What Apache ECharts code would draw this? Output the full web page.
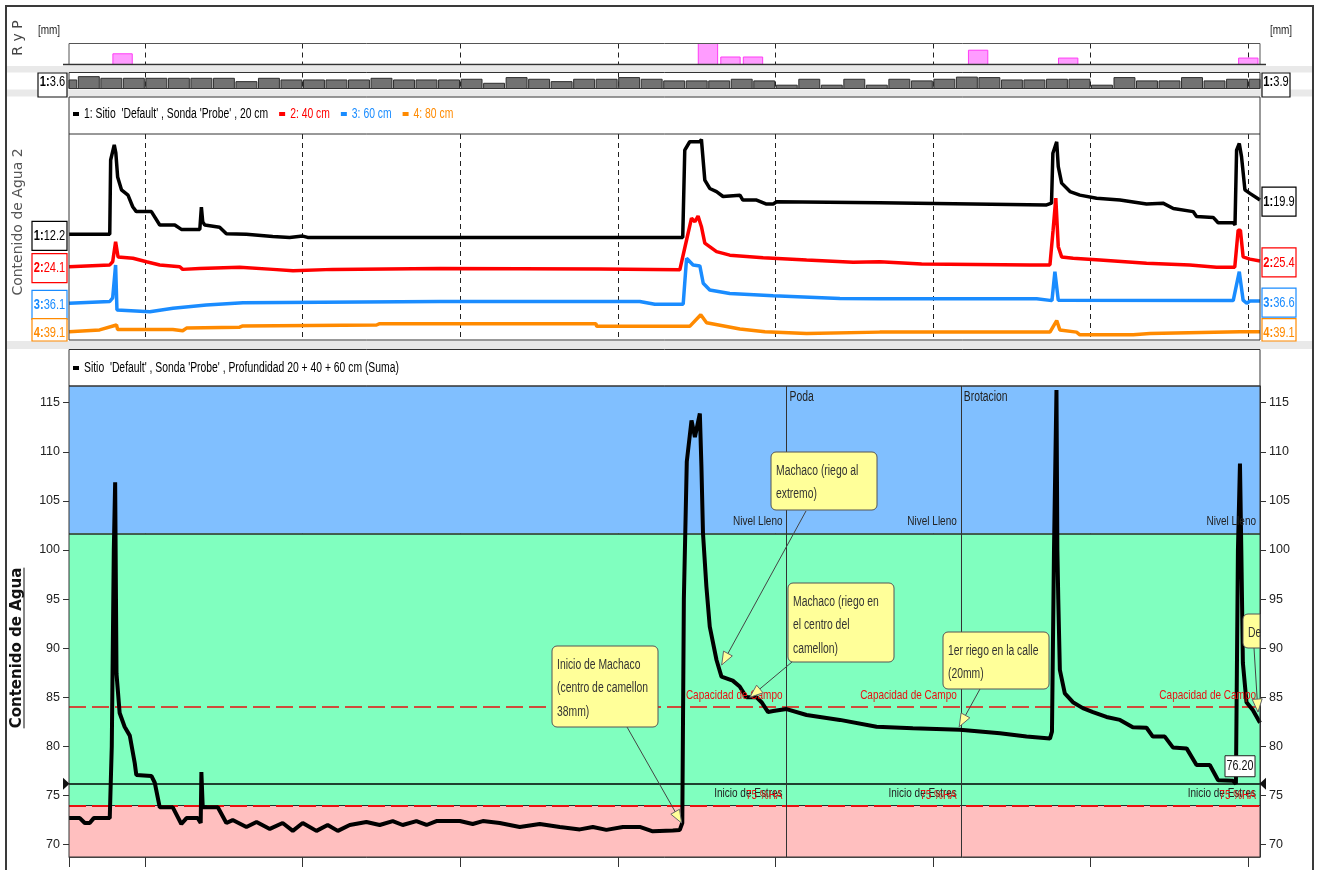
<!DOCTYPE html>
<html>
<head>
<meta charset="utf-8">
<script src="https://cdn.jsdelivr.net/npm/echarts@6/dist/echarts.min.js"></script>
<style>
  html, body { margin: 0; padding: 0; background: #fff; }
  #chart { width: 1318px; height: 870px; }
</style>
</head>
<body>
<div id="chart"></div>
<script>
// ---------------- data (x = days from the start of the window) ----------------
const xEnd = 52.9;
const weekLines = [3.38, 10.38, 17.38, 24.38, 31.38, 38.38, 45.38, 52.38];

// rain / irrigation, daily totals [mm]
const rainDays = [2.38, 28.38, 29.38, 30.38, 40.38, 44.38, 52.38];
const rainMm   = [15, 38, 10.5, 10.5, 20, 9, 9];

// reference evapotranspiration, one value per day [mm]
const etFirstDay = -0.12;
const etMm = [3.6, 5.0, 4.3, 4.3, 4.3, 4.3, 4.3, 4.3, 2.9, 4.3,
              3.6, 3.6, 3.6, 3.6, 4.3, 3.6, 3.6, 3.6, 3.9, 2.2,
              4.6, 3.9, 2.9, 3.9, 3.9, 4.6, 3.9, 3.2, 3.2, 3.2,
              3.9, 3.2, 1.4, 3.9, 1.4, 3.9, 1.4, 3.9, 3.2, 3.9,
              4.8, 4.6, 3.6, 3.6, 3.9, 3.9, 1.4, 4.6, 3.2, 3.2,
              4.6, 3.2, 3.9, 3.9];

// soil water content per sensor depth [day, value]
const depth20 = [[0,12.2],[1.22,12.2],[1.27,12.6],[1.36,12.2],[1.81,12.2],[1.85,28.9],[2.01,32.3],[2.08,30.5],[2.16,25.1],[2.33,22.2],[2.62,21.0],[2.83,18.4],[2.99,17.3],[3.66,17.3],[4.03,14.3],[4.70,14.3],[4.99,13.3],[5.81,13.3],[5.88,18.3],[5.94,15.0],[6.03,14.3],[6.69,13.8],[6.99,12.3],[7.88,12.2],[9.05,11.7],[9.80,11.5],[10.38,11.8],[10.6,11.5],[16.47,11.5],[27.26,11.5],[27.35,31.1],[27.57,33.0],[28.01,33.0],[28.09,33.5],[28.24,24.4],[28.46,22.5],[28.76,21.8],[29.05,20.7],[29.80,21.0],[29.93,19.9],[30.54,19.9],[30.98,19.0],[31.28,19.0],[31.43,19.5],[36.01,19.3],[43.42,18.8],[43.64,19.2],[43.70,30.4],[43.87,33.0],[43.94,27.4],[44.09,23.7],[44.46,21.8],[44.90,21.0],[45.64,20.3],[46.68,19.9],[47.86,19.0],[48.59,19.2],[49.05,18.0],[49.93,17.3],[50.08,16.2],[50.82,16.0],[51.04,14.8],[51.71,14.8],[51.79,14.3],[51.86,31.1],[51.98,32.6],[52.08,29.6],[52.23,22.2],[52.45,21.4],[52.90,19.9]];
const depth40 = [[0,24.1],[1.81,24.5],[1.94,25.2],[2.07,29.7],[2.18,26.3],[2.84,26.0],[3.44,25.2],[4.03,24.5],[4.92,24.1],[5.05,23.5],[5.80,23.7],[7.58,24.0],[9.06,23.5],[9.95,23.2],[11.71,23.5],[16.47,23.7],[23.58,23.6],[27.13,23.4],[27.43,30.1],[27.65,35.0],[27.80,34.2],[27.94,35.5],[28.09,33.1],[28.24,29.4],[28.76,27.5],[29.35,26.7],[30.83,26.1],[32.76,25.6],[34.83,25.1],[36.01,25.2],[37.87,24.7],[42.68,24.5],[43.57,24.5],[43.71,32.3],[43.83,39.5],[43.94,28.6],[44.09,26.3],[44.60,26.0],[45.79,25.6],[47.86,24.9],[49.78,24.5],[50.97,24.0],[51.78,24.0],[51.93,32.3],[52.03,32.3],[52.15,26.3],[52.45,25.8],[52.90,25.4]];
const depth60 = [[0,36.1],[1.81,36.5],[1.94,37.3],[2.07,44.7],[2.13,34.6],[3.59,34.2],[4.62,35.0],[6.10,35.7],[7.73,36.2],[16.47,36.5],[25.35,36.5],[26.02,35.9],[27.28,35.9],[27.43,46.2],[27.72,44.7],[28.02,44.5],[28.17,40.6],[28.46,39.1],[29.35,38.3],[31.28,37.8],[34.24,37.2],[36.01,37.1],[42.98,37.1],[43.05,36.7],[43.66,36.7],[43.79,43.2],[43.94,36.8],[51.71,36.7],[51.98,43.2],[52.15,36.8],[52.31,36.1],[52.45,36.6],[52.90,36.6]];
const depth80 = [[0,39.1],[1.36,39.5],[2.11,40.6],[2.16,39.6],[4.61,39.6],[4.69,39.3],[5.05,39.3],[5.22,39.9],[7.58,40.1],[7.72,40.4],[13.66,40.6],[13.80,40.9],[23.40,40.9],[23.44,40.3],[27.57,40.3],[28.06,42.9],[28.32,41.1],[29.80,39.7],[30.91,39.1],[32.76,38.7],[36.01,39.0],[43.57,39.0],[43.87,41.6],[44.01,39.5],[44.75,39.0],[44.90,38.4],[47.27,38.4],[48.01,38.7],[52.01,39.1],[52.90,39.1]];

// summed profile 20 + 40 + 60 cm [day, value]
const sumProfile = [[0,72.7],[0.48,72.7],[0.7,72.2],[0.92,72.2],[1.1,72.7],[1.81,72.7],[1.90,80.0],[1.99,100.0],[2.05,106.9],[2.11,87.4],[2.25,83.4],[2.47,82.0],[2.70,81.1],[2.92,78.3],[2.99,77.1],[3.66,77.0],[3.81,76.3],[4.03,73.8],[4.61,73.8],[4.99,72.1],[5.22,72.7],[5.72,72.7],[5.85,72.2],[5.88,77.4],[5.92,77.4],[5.94,73.8],[6.61,73.8],[6.99,72.2],[7.27,72.5],[7.88,71.8],[8.33,72.3],[8.92,71.6],[9.49,72.2],[9.94,71.4],[10.38,72.2],[10.99,71.4],[11.49,72.0],[11.94,71.4],[12.47,72.0],[13.21,72.3],[13.80,72.0],[14.38,72.4],[14.82,72.0],[15.43,72.4],[15.88,72.0],[16.32,72.4],[17.36,72.4],[17.93,72.1],[18.38,72.4],[19.13,72.2],[20.02,71.8],[20.91,72.1],[21.80,71.8],[22.69,71.55],[23.27,71.8],[23.87,71.5],[24.60,71.8],[25.35,71.8],[25.93,71.35],[26.82,71.45],[27.13,71.5],[27.24,72.2],[27.31,95.0],[27.44,109.0],[27.65,113.2],[27.80,111.5],[28.02,113.9],[28.09,108.5],[28.16,101.7],[28.31,96.3],[28.46,92.2],[28.76,88.8],[28.98,87.1],[29.48,86.7],[29.79,86.1],[30.09,85.0],[30.54,85.0],[30.76,84.5],[31.05,83.5],[31.28,83.6],[31.87,83.8],[32.76,83.2],[34.24,82.7],[35.87,82.0],[37.48,81.85],[39.57,81.7],[41.35,81.35],[42.53,81.0],[43.57,80.8],[43.66,81.5],[43.75,100.0],[43.86,116.3],[43.90,100.0],[43.94,95.0],[44.01,87.8],[44.23,85.4],[44.59,84.5],[45.03,83.9],[45.48,83.5],[46.08,83.0],[46.68,82.7],[47.25,81.95],[47.86,81.9],[48.14,81.0],[48.67,81.0],[49.03,79.9],[49.64,79.8],[50.08,78.1],[50.67,78.1],[51.04,76.55],[51.70,76.5],[51.83,76.2],[51.92,100.0],[52.01,108.8],[52.07,100.0],[52.14,88.5],[52.30,84.5],[52.58,83.7],[52.90,82.4]];

// management levels of the summed profile
const nivelLleno = 101.7;
const capacidadCampo = 84.0;
const inicioEstres = 74.0;
const cursorValue = 76.2;
const yTicks = [70, 75, 80, 85, 90, 95, 100, 105, 110, 115];
const levelNames = ['Nivel Lleno', 'Capacidad de Campo', 'Inicio de Estres'];
const stressPctLabel = '75 %HA';

// field events
const eventNames = ['Poda', 'Brotacion'];
const eventDays  = [31.87, 39.61];

// notes: text and the [day, value] they point at
const noteTexts = ['Machaco (riego al\nextremo)', 'Machaco (riego en\nel centro del\ncamellon)',
                   'Inicio de Machaco\n(centro de camellon\n38mm)', '1er riego en la calle\n(20mm)', 'De'];
const noteTargets = [[28.99, 88.3], [30.24, 85.0], [27.21, 72.2], [39.54, 82.0], [52.81, 83.5]];

const seriesNames = ["1: Sitio  'Default' , Sonda 'Probe' , 20 cm", '2: 40 cm', '3: 60 cm', '4: 80 cm'];
const sumName = "Sitio  'Default' , Sonda 'Probe' , Profundidad 20 + 40 + 60 cm (Suma)";

// ---------------- styling / layout ----------------
const NFONT = "'Liberation Sans',Arial,sans-serif";   // squeezed horizontally to a narrow face
const NX = 0.74;
const WIDE = "'DejaVu Sans',sans-serif";
const depthColors = ['#000000', '#ff0000', '#1a8cff', '#ff8a00'];
// value windows of the four stacked sensor traces (same scale, offset bands)
const depthRanges = [[-11.55, 34.74], [7.63, 53.92], [27.85, 74.14], [37.23, 83.53]];
const noteBoxes = [
  { x: 771, y: 452, w: 106, h: 58, from: [806, 511] },
  { x: 788, y: 583, w: 106, h: 79, from: [792, 662] },
  { x: 552, y: 646, w: 106, h: 81, from: [627, 727] },
  { x: 943, y: 632, w: 106, h: 57, from: [980, 689] },
  { x: 1243, y: 614, w: 17, h: 34, from: [1254, 648], open: true }
];

const chart = echarts.init(document.getElementById('chart'), null, { renderer: 'canvas' });

const grids = [
  { left: 69, top: 43.5, width: 1191, height: 21 },
  { left: 69, top: 72.5, width: 1191, height: 16 },
  { left: 69, top: 134, width: 1191, height: 206 },
  { left: 69, top: 386, width: 1191, height: 471 }
].map(g => Object.assign({ show: false, containLabel: false, outerBoundsMode: 'none' }, g));

function xAxisFor(i, extra) {
  return Object.assign({
    type: 'value', gridIndex: i, min: 0, max: xEnd,
    axisLine: { show: false, onZero: false },
    axisLabel: { show: false },
    axisTick: { show: false, customValues: weekLines },
    splitLine: { show: true, lineStyle: { color: '#222', width: 1, type: [5, 4] } }
  }, extra || {});
}
function hiddenY(i, min, max) {
  return { type: 'value', gridIndex: i, min, max, show: false,
           axisLine: { show: false, onZero: false }, splitLine: { show: false } };
}
function mainY(position) {
  return {
    type: 'value', gridIndex: 3, min: 68.74, max: 116.7, position,
    axisLine: { show: true, onZero: false, lineStyle: { color: '#333', width: 1 } },
    axisTick: { show: true, length: 6, customValues: yTicks, lineStyle: { color: '#333' } },
    axisLabel: { show: true, customValues: yTicks, margin: 9, color: '#222', fontFamily: NFONT, fontSize: 12.5 },
    splitLine: { show: false }
  };
}

function barRenderer(halfWidth, fill, stroke) {
  return function (params, api) {
    const d = api.value(0), v = api.value(1);
    const a = api.coord([d - halfWidth, 0]);
    const b = api.coord([d + halfWidth, v]);
    const cs = params.coordSys;
    const shape = echarts.graphic.clipRectByRect(
      { x: a[0], y: b[1], width: b[0] - a[0], height: a[1] - b[1] },
      { x: cs.x, y: cs.y, width: cs.width, height: cs.height });
    if (!shape) return null;
    return { type: 'rect', shape, style: { fill, stroke, lineWidth: 1 } };
  };
}

const option = {
  animation: false,
  backgroundColor: '#ffffff',
  grid: grids,
  xAxis: [
    xAxisFor(0), xAxisFor(1), xAxisFor(2),
    xAxisFor(3, {
      axisLine: { show: true, onZero: false, lineStyle: { color: '#555' } },
      axisTick: { show: true, length: 10, inside: false, customValues: [0].concat(weekLines), lineStyle: { color: '#333' } }
    })
  ],
  yAxis: [
    hiddenY(0, 0, 29.4),
    hiddenY(1, 0, 6.75),
    hiddenY(2, depthRanges[0][0], depthRanges[0][1]),
    hiddenY(2, depthRanges[1][0], depthRanges[1][1]),
    hiddenY(2, depthRanges[2][0], depthRanges[2][1]),
    hiddenY(2, depthRanges[3][0], depthRanges[3][1]),
    mainY('left'),
    mainY('right')
  ],
  series: [
    { type: 'custom', name: 'R y P', xAxisIndex: 0, yAxisIndex: 0,
      data: rainDays.map((d, i) => [d, rainMm[i]]),
      renderItem: barRenderer(0.43, '#ff9cff', '#ff3cf5'), silent: true, z: 3 },
    { type: 'custom', name: 'ETo', xAxisIndex: 1, yAxisIndex: 1,
      data: etMm.map((v, i) => [etFirstDay + i, v]),
      renderItem: barRenderer(0.465, '#727272', '#2e2e2e'), silent: true, z: 1 },
    ...[depth20, depth40, depth60, depth80].map((d, i) => ({
      type: 'line', name: seriesNames[i], xAxisIndex: 2, yAxisIndex: 2 + i, data: d,
      showSymbol: false, symbol: 'none', color: depthColors[i], clip: true,
      lineStyle: { width: 3.5, color: depthColors[i] }, z: 3 + (3 - i), silent: true
    })),
    // background zones and level lines of the summed profile
    { type: 'line', name: 'zonas', xAxisIndex: 3, yAxisIndex: 6, data: [], silent: true, z: 1,
      markArea: { silent: true, z: 1, itemStyle: { opacity: 1 },
        data: [
          [{ yAxis: nivelLleno, itemStyle: { color: '#80bfff', opacity: 1 } }, { yAxis: 116.7 }],
          [{ yAxis: inicioEstres, itemStyle: { color: '#80ffbf', opacity: 1 } }, { yAxis: nivelLleno }],
          [{ yAxis: 68.74, itemStyle: { color: '#ffbfbf', opacity: 1 } }, { yAxis: inicioEstres }]
        ] },
      markLine: { silent: true, z: 3, symbol: ['none', 'none'], animation: false, label: { show: false },
        data: [
          { yAxis: nivelLleno, lineStyle: { color: '#2a2a2a', width: 1.5, type: 'solid' } },
          { yAxis: capacidadCampo, lineStyle: { color: '#e81010', width: 1.5, type: [17, 6] } },
          { yAxis: inicioEstres, lineStyle: { color: '#2a2a2a', width: 1.2, type: 'solid' } },
          { yAxis: inicioEstres, lineStyle: { color: '#e81010', width: 2, type: [17, 6] } },
          { yAxis: cursorValue, lineStyle: { color: '#000', width: 1.5, type: 'solid' } },
          ...eventDays.map(d => ({ xAxis: d, lineStyle: { color: '#333', width: 1, type: 'solid' } }))
        ] } },
    { type: 'line', name: sumName, xAxisIndex: 3, yAxisIndex: 6, data: sumProfile,
      showSymbol: false, symbol: 'none', color: '#000', clip: true,
      lineStyle: { width: 4, color: '#000' }, z: 10, silent: true }
  ]
};
chart.setOption(option);

// ---------------- frames, legends, tags, titles and notes ----------------
function buildGraphics() {
  const g = [];
  const ctx = document.createElement('canvas').getContext('2d');
  const P = (xi, yi, pt) => chart.convertToPixel({ xAxisIndex: xi, yAxisIndex: yi }, pt);
  const rect = (x, y, w, h, style, z, r) => ({ type: 'rect', shape: { x, y, width: w, height: h, r: r || 0 }, style, z: z == null ? 50 : z, silent: true });
  const line = (x1, y1, x2, y2, style, z) => ({ type: 'line', shape: { x1, y1, x2, y2 }, style, z: z == null ? 50 : z, silent: true });
  const text = (x, y, str, style, z, extra) => Object.assign({ type: 'text', x, y, style: Object.assign({ text: str }, style), z: z == null ? 60 : z, silent: true }, extra || {});
  const poly = (pts, style, z) => ({ type: 'polygon', shape: { points: pts }, style, z: z == null ? 55 : z, silent: true });
  // narrow text: regular sans squeezed horizontally around its anchor
  const ntext = (x, y, str, o) => ({
    type: 'text', x, y, scaleX: NX, z: o.z || 60, silent: true,
    style: { text: str, fontFamily: NFONT, fontSize: o.size || 14, fontWeight: o.weight || 'normal',
             fill: o.color || '#222', align: o.align || 'left', verticalAlign: o.v || 'middle',
             lineHeight: o.lh, rich: o.rich }
  });
  const nwidth = (str, size, weight) => { ctx.font = (weight || 'normal') + ' ' + size + 'px ' + NFONT; return ctx.measureText(str).width * NX; };
  const tagRich = (col, size) => ({ b: { fontWeight: 'bold', fill: col, fontSize: size, fontFamily: NFONT },
                                    v: { fill: col, fontSize: size, fontFamily: NFONT } });

  // outer frame and separator strips
  g.push(rect(6, 6, 1307, 900, { fill: 'none', stroke: '#3a3a3a', lineWidth: 2 }, 40));
  g.push(rect(7, 66, 1305, 6.5, { fill: '#e9e9e9' }, 0));
  g.push(rect(7, 89.5, 1305, 7, { fill: '#e9e9e9' }, 0));
  g.push(rect(7, 341, 1305, 8, { fill: '#e9e9e9' }, 0));

  // rain panel
  g.push(rect(69, 43.5, 1191, 21, { fill: 'none', stroke: '#555', lineWidth: 1 }));
  g.push(line(63, 64.5, 1266, 64.5, { stroke: '#333', lineWidth: 1.5 }));
  g.push(ntext(49, 30, '[mm]', { size: 13.5, align: 'center' }));
  g.push(ntext(1281, 30, '[mm]', { size: 13.5, align: 'center' }));
  g.push(text(18, 38, 'R y P', { fill: '#444', fontFamily: WIDE, fontSize: 14, align: 'center', verticalAlign: 'middle' }, 60, { rotation: Math.PI / 2 }));

  // evapotranspiration strip
  g.push(rect(69, 72.5, 1191, 16, { fill: 'none', stroke: '#333', lineWidth: 1 }));
  [[38, 29, etMm[0]], [1262, 28, etMm[etMm.length - 1]]].forEach(([x, w, v]) => {
    g.push(rect(x, 73, w, 24, { fill: '#fff', stroke: '#111', lineWidth: 1.2 }));
    g.push(ntext(x + w / 2, 82, '{b|1:}{v|' + v.toFixed(1) + '}', { align: 'center', rich: tagRich('#000', 15) }));
  });

  // sensor panel frames and legend
  g.push(rect(69, 97, 1191, 243, { fill: 'none', stroke: '#333', lineWidth: 1 }));
  g.push(line(69, 134, 1260, 134, { stroke: '#333', lineWidth: 1 }));
  let lx = 73;
  seriesNames.forEach((n, i) => {
    g.push(rect(lx, 112, 6, 4, { fill: depthColors[i] }));
    g.push(ntext(lx + 11, 114, n, { size: 14, color: depthColors[i] }));
    lx += 11 + nwidth(n, 14) + 11;
  });
  g.push(text(18, 222, 'Contenido de Agua 2', { fill: '#555', fontFamily: WIDE, fontSize: 14, align: 'center', verticalAlign: 'middle' }, 60, { rotation: Math.PI / 2 }));

  // first / last value tags of each depth
  [depth20, depth40, depth60, depth80].forEach((d, i) => {
    const col = depthColors[i];
    [[d[0], 32, 35], [d[d.length - 1], 1262, 34]].forEach(([pt, x, w]) => {
      const p = P(2, 2 + i, pt);
      const cy = p[1] + 1.5;
      const top = cy - 14.5;
      const bottom = Math.min(top + 29, 341);
      g.push(rect(x, top, w, bottom - top, { fill: '#fff', stroke: col, lineWidth: 1.2 }));
      g.push(ntext(x + w / 2, cy, '{b|' + (i + 1) + ':}{v|' + pt[1].toFixed(1) + '}', { align: 'center', rich: tagRich(col, 15) }));
    });
  });

  // summed profile panel frames, legend and title
  g.push(rect(69, 349.5, 1191, 36.5, { fill: 'none', stroke: '#333', lineWidth: 1 }));
  g.push(rect(69, 386, 1191, 471, { fill: 'none', stroke: '#333', lineWidth: 1 }));
  g.push(rect(73, 366, 6, 4, { fill: '#000' }));
  g.push(ntext(84, 368, sumName, { size: 14, color: '#000' }));
  const titleFont = 'bold 15px ' + WIDE;
  ctx.font = titleFont;
  const tw = ctx.measureText('Contenido de Agua').width;
  g.push(text(17, 648, 'Contenido de Agua', { fill: '#111', font: titleFont, align: 'center', verticalAlign: 'middle' }, 60, { rotation: Math.PI / 2 }));
  g.push(line(24, 648 - tw / 2, 24, 648 + tw / 2, { stroke: '#111', lineWidth: 1 }));

  // level labels at the end of each stretch between field events
  const stretchEnds = eventDays.concat([xEnd]);
  stretchEnds.forEach(d => {
    [[nivelLleno, levelNames[0], '#222'], [capacidadCampo, levelNames[1], '#e81010'], [inicioEstres, levelNames[2], '#222']]
      .forEach(([v, name, col]) => {
        const p = P(3, 6, [d, v]);
        g.push(ntext(p[0] - 4, p[1] - 12, name, { size: 13.5, color: col, align: 'right', z: 45 }));
      });
    const ps = P(3, 6, [d, inicioEstres]);
    g.push(ntext(ps[0] - 4, ps[1] - 10, stressPctLabel, { size: 13.5, color: '#e81010', align: 'right', z: 46 }));
  });

  // field event labels
  eventDays.forEach((d, i) => {
    const p = P(3, 6, [d, 116.7]);
    g.push(ntext(p[0] + 3, p[1] + 11, eventNames[i], { size: 14 }));
  });

  // cursor line markers and value box
  const cy = P(3, 6, [0, cursorValue])[1];
  g.push(poly([[63, cy - 6], [69.5, cy], [63, cy + 6]], { fill: '#111' }));
  g.push(poly([[1266, cy - 6], [1259.5, cy], [1266, cy + 6]], { fill: '#111' }));
  g.push(rect(1225, cy - 28, 30, 21, { fill: '#fff', stroke: '#222', lineWidth: 1 }, 58));
  g.push(ntext(1240, cy - 17.5, cursorValue.toFixed(2), { size: 14.5, align: 'center', color: '#111' }));

  // notes with leader arrows
  noteTexts.forEach((t, i) => {
    const b = noteBoxes[i];
    const tip = P(3, 6, noteTargets[i]);
    const f = b.from;
    g.push(line(f[0], f[1], tip[0], tip[1], { stroke: '#444', lineWidth: 1 }, 56));
    const dx = tip[0] - f[0], dy = tip[1] - f[1], L = Math.hypot(dx, dy) || 1;
    const ux = dx / L, uy = dy / L, nx = -uy, ny = ux;
    const bx = tip[0] - ux * 13, by = tip[1] - uy * 13;
    g.push(poly([[tip[0], tip[1]], [bx + nx * 5, by + ny * 5], [bx - nx * 5, by - ny * 5]],
                { fill: '#ffff99', stroke: '#666', lineWidth: 1 }, 57));
    g.push(rect(b.x, b.y, b.w, b.h, { fill: '#ffff99', stroke: '#555', lineWidth: 1 }, 58, b.open ? [5, 0, 0, 5] : 5));
    g.push(ntext(b.x + 5, b.y + 7, t, { size: 14, lh: 23.5, v: 'top', color: '#333', z: 59 }));
  });

  return g;
}
chart.setOption({ graphic: { elements: buildGraphics() } });
</script>
</body>
</html>
